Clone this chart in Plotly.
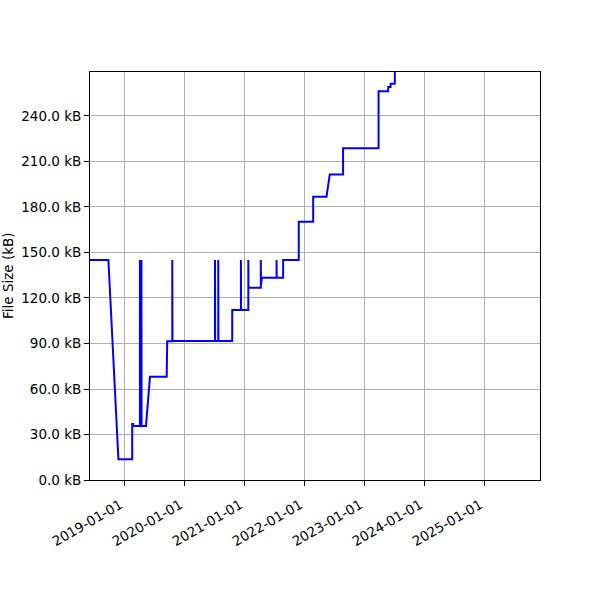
import plotly.graph_objects as go

# Data (date, file size in kB)
dates = [
    "2018-05-01", "2018-09-26", "2018-11-26", "2019-02-18", "2019-02-18",
    "2019-02-24", "2019-02-24", "2019-04-06", "2019-04-06", "2019-04-07",
    "2019-04-15", "2019-04-15", "2019-04-16", "2019-05-13", "2019-06-06",
    "2019-09-16", "2019-09-19", "2019-10-20", "2019-10-20", "2019-10-21",
    "2020-07-06", "2020-07-06", "2020-07-07", "2020-07-26", "2020-07-26",
    "2020-07-27", "2020-10-19", "2020-10-19", "2020-12-11", "2020-12-11",
    "2020-12-12", "2021-01-25", "2021-01-25", "2021-01-26", "2021-04-11",
    "2021-04-11", "2021-04-12", "2021-04-18", "2021-07-16", "2021-07-16",
    "2021-07-17", "2021-08-25", "2021-08-25", "2021-11-28", "2021-11-28",
    "2022-02-24", "2022-02-24", "2022-05-16", "2022-06-05", "2022-08-25",
    "2022-08-25", "2023-03-29", "2023-03-29", "2023-05-26", "2023-05-27",
    "2023-06-10", "2023-06-11", "2023-07-06", "2023-07-07",
]
sizes = [
    145.0, 145.0, 13.7, 13.7, 37.0,
    37.0, 35.6, 35.6, 145.0, 35.6,
    35.6, 145.0, 35.6, 35.6, 68.0,
    68.0, 91.4, 91.4, 145.0, 91.6,
    91.6, 145.0, 91.6, 91.6, 145.0,
    91.6, 91.6, 112.1, 112.1, 145.0,
    112.1, 112.1, 145.0, 126.8, 126.8,
    145.0, 128.5, 133.4, 133.4, 145.0,
    133.4, 133.4, 145.0, 145.0, 170.3,
    170.3, 186.8, 186.8, 201.5, 201.5,
    218.7, 218.7, 256.3, 256.3, 259.1,
    259.1, 261.3, 261.3, 300.0,
]

x_tick_vals = ["2019-01-01", "2020-01-01", "2021-01-01", "2022-01-01",
               "2023-01-01", "2024-01-01", "2025-01-01"]
y_tick_vals = [0, 30, 60, 90, 120, 150, 180, 210, 240]
y_tick_text = [f"{v:.1f} kB" for v in y_tick_vals]
y_title = "File Size (kB)"

fig = go.Figure()
fig.add_trace(go.Scatter(
    x=dates, y=sizes, mode="lines",
    line=dict(color="#0000ff", width=2),
    showlegend=False, hoverinfo="skip",
))

FS = 13.5
font = dict(family="DejaVu Sans", size=FS, color="black")
fig.update_layout(
    width=600, height=600,
    margin=dict(l=90, r=60, t=72, b=120),
    paper_bgcolor="white", plot_bgcolor="white",
    font=font,
    xaxis=dict(
        type="date", automargin=False,
        range=["2018-06-06", "2025-12-06"],
        tickmode="array", tickvals=x_tick_vals, ticktext=x_tick_vals,
        tickangle=-30, tickfont=dict(size=FS),
        ticklabelstandoff=6, ticklabelshift=-4,
        showgrid=True, gridcolor="#b0b0b0", gridwidth=1,
        showline=True, linecolor="black", linewidth=1, mirror=True,
        ticks="outside", ticklen=5, tickcolor="black",
        zeroline=False,
    ),
    yaxis=dict(
        automargin=False,
        range=[0, 269],
        tickmode="array", tickvals=y_tick_vals, ticktext=y_tick_text,
        tickfont=dict(size=FS),
        showgrid=True, gridcolor="#b0b0b0", gridwidth=1,
        showline=True, linecolor="black", linewidth=1, mirror=True,
        ticks="outside", ticklen=5, tickcolor="black",
        zeroline=False,
    ),
    annotations=[dict(
        text=y_title, textangle=-90, showarrow=False,
        xref="paper", yref="paper", x=(8 - 90) / 450, y=0.5,
        xanchor="center", yanchor="middle",
        font=dict(size=FS),
    )],
)

fig.write_html("out.html", config={"displayModeBar": False},
               post_script="document.body.style.margin='0';")
